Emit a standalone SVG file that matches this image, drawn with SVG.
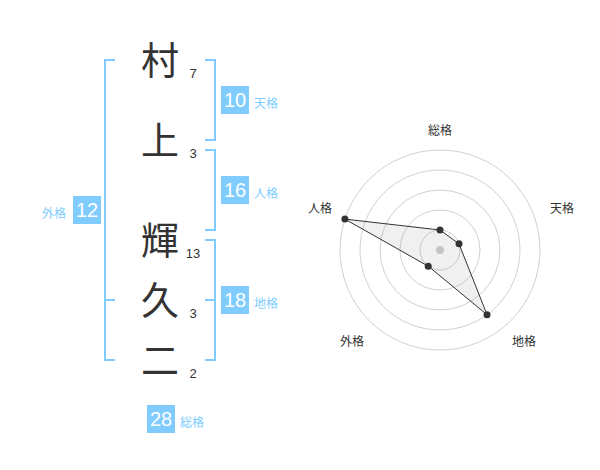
<svg xmlns="http://www.w3.org/2000/svg" width="600" height="470" viewBox="0 0 600 470">
<style>
.br{fill:none;stroke:#80ccff;stroke-width:2}
.ch{font-family:"Noto Sans CJK JP","Noto Sans CJK SC",sans-serif;font-size:38px;fill:#333;text-anchor:middle}
.num{font-family:"Liberation Sans",Arial,sans-serif;font-size:13px;fill:#333;text-anchor:middle}
.box{fill:#80ccff}
.bt{font-family:"Liberation Sans",Arial,sans-serif;font-size:20px;fill:#fff;text-anchor:middle}
.lb{font-family:"Noto Sans CJK JP","Noto Sans CJK SC",sans-serif;font-size:12px;fill:#80ccff}
.ring{fill:none;stroke:#d0d0d0;stroke-width:1}
.rl{font-family:"Noto Sans CJK JP","Noto Sans CJK SC",sans-serif;font-size:12px;fill:#333;text-anchor:middle}
.dot{fill:#333}
</style>
<rect width="600" height="470" fill="#fff"/>
<g id="connectors">
<path class="br" d="M115,60 H105 V360 H115 M105,300 H115"/>
<path class="br" d="M205,60 H215 V140 H205"/>
<path class="br" d="M205,150 H215 V230 H205"/>
<path class="br" d="M205,240 H215 V360 H205 M205,300 H215"/>
</g>
<g id="char1"><text class="ch" x="160" y="74">村</text><text class="num" x="193" y="78">7</text></g>
<g id="char2"><text class="ch" x="160" y="154">上</text><text class="num" x="193" y="158">3</text></g>
<g id="char3"><text class="ch" x="160" y="254">輝</text><text class="num" x="193" y="258">13</text></g>
<g id="char4"><text class="ch" x="160" y="314">久</text><text class="num" x="193" y="318">3</text></g>
<g id="char5"><text class="ch" x="160" y="374">二</text><text class="num" x="193" y="378">2</text></g>
<g id="tenkaku"><rect class="box" x="221" y="86" width="28" height="28"/><text class="bt" x="235" y="107">10</text><text class="lb" x="254" y="108">天格</text></g>
<g id="jinkaku"><rect class="box" x="221" y="176" width="28" height="28"/><text class="bt" x="235" y="197">16</text><text class="lb" x="254" y="198">人格</text></g>
<g id="chikaku"><rect class="box" x="221" y="286" width="28" height="28"/><text class="bt" x="235" y="307">18</text><text class="lb" x="254" y="308">地格</text></g>
<g id="gaikaku"><rect class="box" x="73" y="196" width="28" height="28"/><text class="bt" x="87" y="217">12</text><text class="lb" x="66" y="218" text-anchor="end">外格</text></g>
<g id="soukaku"><rect class="box" x="147" y="405" width="28" height="28"/><text class="bt" x="161" y="426">28</text><text class="lb" x="180" y="427">総格</text></g>
<g id="radar">
<circle class="ring" cx="440" cy="250" r="20"/>
<circle class="ring" cx="440" cy="250" r="40"/>
<circle class="ring" cx="440" cy="250" r="60"/>
<circle class="ring" cx="440" cy="250" r="80"/>
<circle class="ring" cx="440" cy="250" r="100"/>
<circle cx="440" cy="250" r="4" fill="#ccc"/>
<polygon points="440,230 459.02,243.82 487.02,314.72 428.24,266.18 344.89,219.10" fill="#999" fill-opacity="0.15" stroke="#333" stroke-width="1"/>
<circle class="dot" cx="440" cy="230" r="3.5"/>
<circle class="dot" cx="459.02" cy="243.82" r="3.5"/>
<circle class="dot" cx="487.02" cy="314.72" r="3.5"/>
<circle class="dot" cx="428.24" cy="266.18" r="3.5"/>
<circle class="dot" cx="344.89" cy="219.10" r="3.5"/>
<text class="rl" x="440" y="135">総格</text>
<text class="rl" x="562" y="213">天格</text>
<text class="rl" x="320" y="213">人格</text>
<text class="rl" x="352" y="346">外格</text>
<text class="rl" x="524" y="346">地格</text>
</g>
</svg>
